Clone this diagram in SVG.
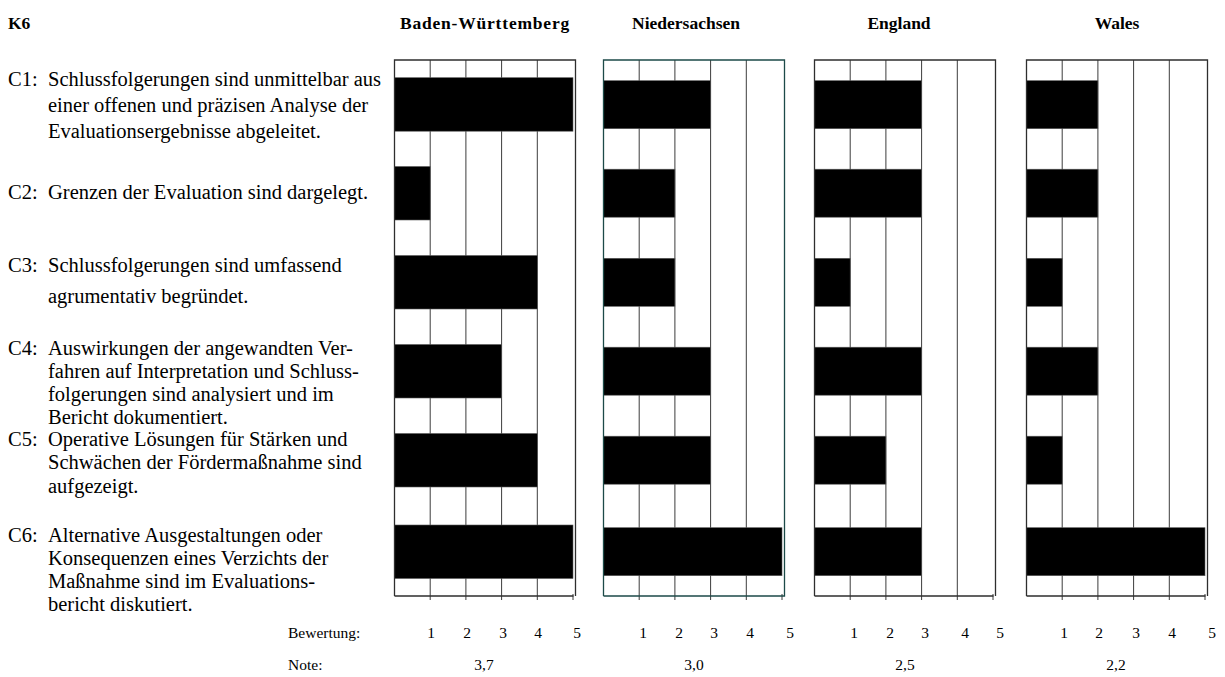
<svg xmlns="http://www.w3.org/2000/svg" width="1225" height="677" viewBox="0 0 1225 677">
  <style>
    text { font-family: "Liberation Serif", Tinos, "Times New Roman", serif; fill: #000; }
    .hd { font-weight: bold; font-size: 17.5px; }
    .tx { font-size: 20.5px; }
    .sm { font-size: 15.5px; }
    .grid { stroke: #3c3c3c; stroke-width: 1; fill: none; }
    .frame { stroke: #2e2e2e; stroke-width: 1.3; fill: none; }
    .frame-teal { stroke: #1d4a48; stroke-width: 1.3; fill: none; }
    .bar { fill: #000; stroke: #5a5a5a; stroke-width: 0.6; }
  </style>
  <defs>
    <!-- five-column scale grid; 35.7 px per rating step -->
    <g id="grid">
      <line class="grid" x1="35.7" y1="60" x2="35.7" y2="596"/>
      <line class="grid" x1="71.4" y1="60" x2="71.4" y2="596"/>
      <line class="grid" x1="107.1" y1="60" x2="107.1" y2="596"/>
      <line class="grid" x1="142.8" y1="60" x2="142.8" y2="596"/>
      <line class="grid" x1="35.7" y1="596" x2="35.7" y2="600"/>
      <line class="grid" x1="71.4" y1="596" x2="71.4" y2="600"/>
      <line class="grid" x1="107.1" y1="596" x2="107.1" y2="600"/>
      <line class="grid" x1="142.8" y1="596" x2="142.8" y2="600"/>
      <line class="grid" x1="178.5" y1="594" x2="178.5" y2="600"/>
    </g>
  </defs>

  <rect width="1225" height="677" fill="#fff"/>

  <!-- column headings -->
  <text class="hd" x="8" y="29">K6</text>
  <text class="hd" x="485" y="29" text-anchor="middle" font-size="18.5" letter-spacing="0.8">Baden-Württemberg</text>
  <text class="hd" x="686" y="29" text-anchor="middle">Niedersachsen</text>
  <text class="hd" x="899" y="29" text-anchor="middle">England</text>
  <text class="hd" x="1117" y="29" text-anchor="middle">Wales</text>

  <!-- criteria -->
  <g id="criteria" class="tx">
    <text x="8" y="86">C1:</text>
    <text x="48" y="86">Schlussfolgerungen sind unmittelbar aus</text>
    <text x="48" y="112">einer offenen und präzisen Analyse der</text>
    <text x="48" y="138">Evaluationsergebnisse abgeleitet.</text>

    <text x="8" y="199">C2:</text>
    <text x="48" y="199">Grenzen der Evaluation sind dargelegt.</text>

    <text x="8" y="272">C3:</text>
    <text x="48" y="272">Schlussfolgerungen sind umfassend</text>
    <text x="48" y="303">agrumentativ begründet.</text>

    <text x="8" y="355">C4:</text>
    <text x="48" y="355">Auswirkungen der angewandten Ver-</text>
    <text x="48" y="378">fahren auf Interpretation und Schluss-</text>
    <text x="48" y="401">folgerungen sind analysiert und im</text>
    <text x="48" y="424">Bericht dokumentiert.</text>

    <text x="8" y="446">C5:</text>
    <text x="48" y="446">Operative Lösungen für Stärken und</text>
    <text x="48" y="469">Schwächen der Fördermaßnahme sind</text>
    <text x="48" y="493">aufgezeigt.</text>

    <text x="8" y="542">C6:</text>
    <text x="48" y="542">Alternative Ausgestaltungen oder</text>
    <text x="48" y="565">Konsequenzen eines Verzichts der</text>
    <text x="48" y="588">Maßnahme sind im Evaluations-</text>
    <text x="48" y="611">bericht diskutiert.</text>
  </g>

  <!-- Baden-Württemberg: 5,1,4,3,4,5 -->
  <g id="panel-bw" transform="translate(394.5,0)">
    <use href="#grid"/>
    <rect class="bar" x="0" y="77.7" width="178.5" height="53.5"/>
    <rect class="bar" x="0" y="166.5" width="35.7" height="53.5"/>
    <rect class="bar" x="0" y="255.5" width="142.8" height="53.5"/>
    <rect class="bar" x="0" y="344.5" width="107.1" height="53.5"/>
    <rect class="bar" x="0" y="433.5" width="142.8" height="53.5"/>
    <rect class="bar" x="0" y="525" width="178.5" height="53.5"/>
    <path class="frame" d="M0,596 V60 H181 V596 M0,596 H179"/>
  </g>

  <!-- Niedersachsen: 3,2,2,3,3,5 -->
  <g id="panel-ni" transform="translate(603.5,0)">
    <use href="#grid"/>
    <rect class="bar" x="0" y="80.7" width="107.1" height="48"/>
    <rect class="bar" x="0" y="169.2" width="71.4" height="48"/>
    <rect class="bar" x="0" y="258.3" width="71.4" height="48"/>
    <rect class="bar" x="0" y="347.2" width="107.1" height="48"/>
    <rect class="bar" x="0" y="436.2" width="107.1" height="48"/>
    <rect class="bar" x="0" y="527.7" width="178.5" height="48"/>
    <path class="frame-teal" d="M0,596 V60 H181 V596 H0"/>
  </g>

  <!-- England: 3,3,1,3,2,3 -->
  <g id="panel-en" transform="translate(814.5,0)">
    <use href="#grid"/>
    <rect class="bar" x="0" y="80.7" width="107.1" height="48"/>
    <rect class="bar" x="0" y="169.2" width="107.1" height="48"/>
    <rect class="bar" x="0" y="258.3" width="35.7" height="48"/>
    <rect class="bar" x="0" y="347.2" width="107.1" height="48"/>
    <rect class="bar" x="0" y="436.2" width="71.4" height="48"/>
    <rect class="bar" x="0" y="527.7" width="107.1" height="48"/>
    <path class="frame" d="M0,596 V60 H181 V596 M0,596 H179"/>
  </g>

  <!-- Wales: 2,2,1,2,1,5 -->
  <g id="panel-wa" transform="translate(1026.5,0)">
    <use href="#grid"/>
    <rect class="bar" x="0" y="80.7" width="71.4" height="48"/>
    <rect class="bar" x="0" y="169.2" width="71.4" height="48"/>
    <rect class="bar" x="0" y="258.3" width="35.7" height="48"/>
    <rect class="bar" x="0" y="347.2" width="71.4" height="48"/>
    <rect class="bar" x="0" y="436.2" width="35.7" height="48"/>
    <rect class="bar" x="0" y="527.7" width="178.5" height="48"/>
    <path class="frame" d="M0,596 V60 H181 V596 M0,596 H179"/>
  </g>

  <!-- rating scale and resulting grades -->
  <g id="scale" class="sm" text-anchor="middle">
    <text x="288" y="638" text-anchor="start">Bewertung:</text>
    <text x="431" y="638">1</text><text x="467" y="638">2</text><text x="503" y="638">3</text><text x="538" y="638">4</text><text x="577" y="638">5</text>
    <text x="643" y="638">1</text><text x="679" y="638">2</text><text x="714" y="638">3</text><text x="750" y="638">4</text><text x="790" y="638">5</text>
    <text x="854" y="638">1</text><text x="890" y="638">2</text><text x="925" y="638">3</text><text x="965" y="638">4</text><text x="1000" y="638">5</text>
    <text x="1064" y="638">1</text><text x="1099" y="638">2</text><text x="1136" y="638">3</text><text x="1172" y="638">4</text><text x="1212" y="638">5</text>

    <text x="288" y="670" text-anchor="start">Note:</text>
    <text x="484" y="670">3,7</text>
    <text x="694" y="670">3,0</text>
    <text x="905" y="670">2,5</text>
    <text x="1116" y="670">2,2</text>
  </g>
</svg>
